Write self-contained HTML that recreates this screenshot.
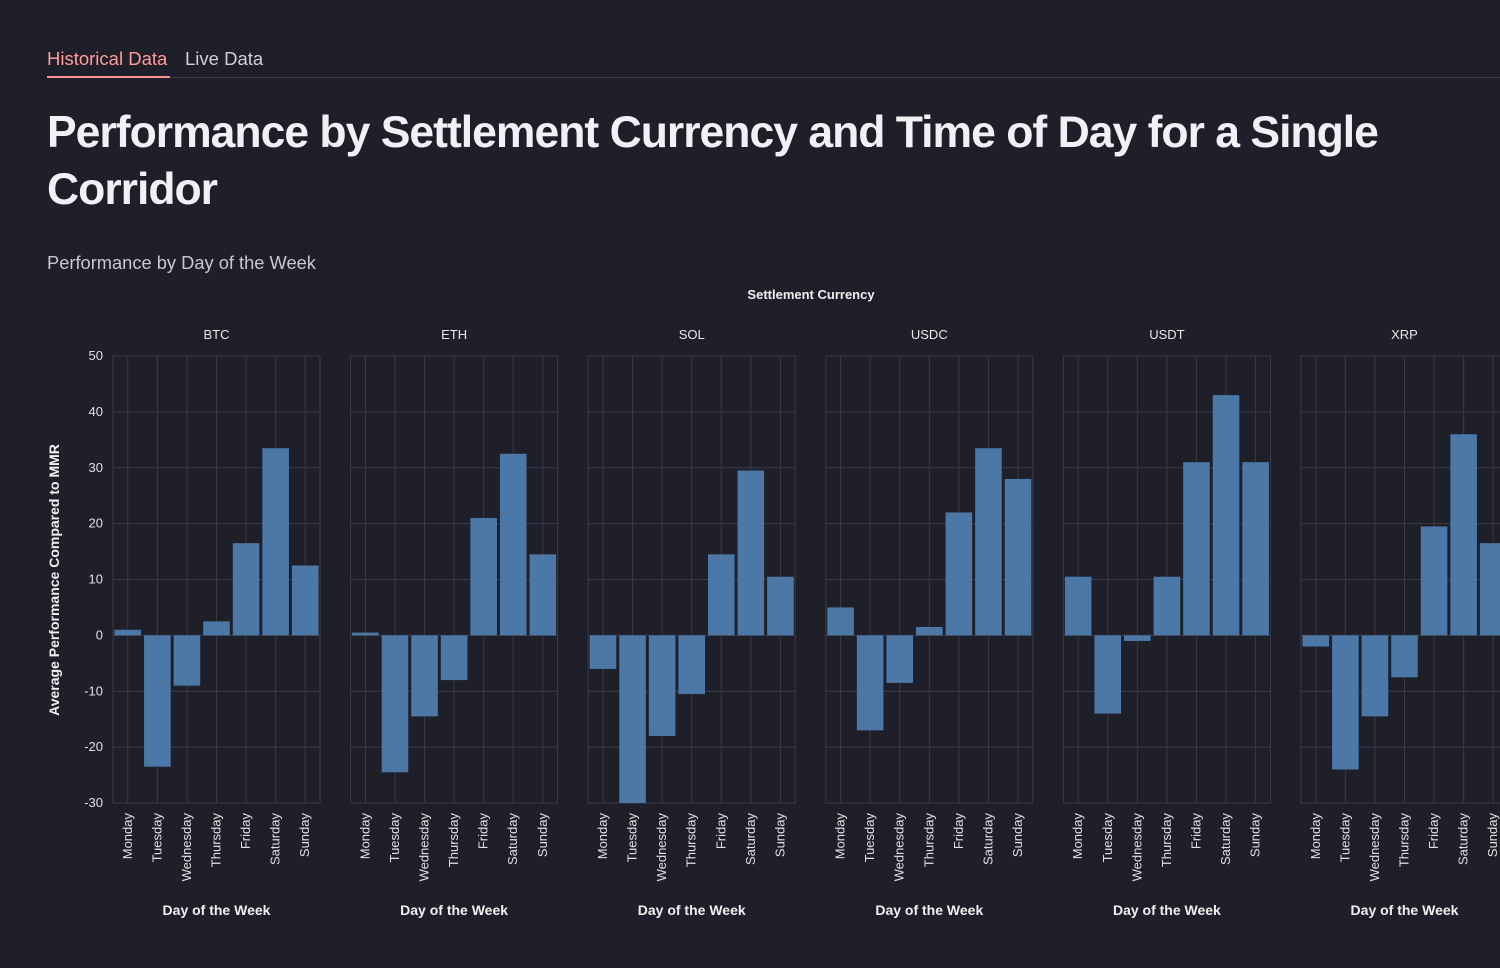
<!DOCTYPE html>
<html><head><meta charset="utf-8"><style>
body{margin:0;background:#1f1f29;width:1500px;height:968px;overflow:hidden;font-family:"Liberation Sans",sans-serif;color:#fafafa}
.tabs{position:absolute;left:47px;top:48px;font-size:18.5px}
.tab{position:absolute;white-space:nowrap}
h1{position:absolute;left:47px;top:104px;margin:0;font-size:44.5px;font-weight:bold;line-height:57px;width:1420px;letter-spacing:-1px;color:#f0f0f5}
.sub{position:absolute;left:47px;top:252px;font-size:18.3px;color:#c8c8d0}
</style></head><body>
<div class="tabs">
<span class="tab" style="left:0;top:0;color:#ff9b9b">Historical Data</span>
<span class="tab" style="left:138px;top:0;color:#d0d0d8">Live Data</span>
</div>
<div style="position:absolute;left:47px;top:77px;width:1453px;height:1px;background:#3a3b46"></div>
<div style="position:absolute;left:47px;top:76px;width:123px;height:2px;background:#ff8f8f"></div>
<h1>Performance by Settlement Currency and Time of Day for a Single Corridor</h1>
<div class="sub">Performance by Day of the Week</div>
<svg id="chart" width="1500" height="968" style="position:absolute;left:0;top:0"></svg>
<script>
const currencies=["BTC","ETH","SOL","USDC","USDT","XRP"];
const days=["Monday","Tuesday","Wednesday","Thursday","Friday","Saturday","Sunday"];
const btcValues=[1,-23.5,-9,2.5,16.5,33.5,12.5];
const ethValues=[0.5,-24.5,-14.5,-8,21,32.5,14.5];
const solValues=[-6,-30,-18,-10.5,14.5,29.5,10.5];
const usdcValues=[5,-17,-8.5,1.5,22,33.5,28];
const usdtValues=[10.5,-14,-1,10.5,31,43,31];
const xrpValues=[-2,-24,-14.5,-7.5,19.5,36,16.5];
const yTicks=[50,40,30,20,10,0,-10,-20,-30];
const series=[btcValues,ethValues,solValues,usdcValues,usdtValues,xrpValues];
const NS="http://www.w3.org/2000/svg";
const svg=document.getElementById("chart");
const top0=356,bot=803,yMax=50,yMin=-30,pw=207,step=237.6,left0=113;
const y=v=>top0+(yMax-v)/(yMax-yMin)*(bot-top0);
function mk(t,a,txt){const e=document.createElementNS(NS,t);for(const k in a)e.setAttribute(k,a[k]);if(txt!==undefined)e.textContent=txt;svg.appendChild(e);return e;}
let e=mk("text",{x:811,y:299,"text-anchor":"middle","font-size":13,"font-weight":"bold",fill:"#f0f0f0","font-family":"Liberation Sans"},"Settlement Currency");


e=mk("text",{x:59,y:580,"text-anchor":"middle","font-size":14,"font-weight":"bold",fill:"#f0f0f0",transform:"rotate(-90 59 580)","font-family":"Liberation Sans"},"Average Performance Compared to MMR");


yTicks.forEach(t=>{
  e=mk("text",{x:103,y:y(t)+4,"text-anchor":"end","font-size":13,fill:"#e0e0e0","font-family":"Liberation Sans"},t);
  
  
});
currencies.forEach((c,ci)=>{
  const x0=left0+ci*step, bw=pw/days.length;
  const g=mk("g",{});
  
  
  yTicks.forEach(t=>{mk("line",{x1:x0,x2:x0+pw,y1:y(t),y2:y(t),stroke:"#3a3b48","stroke-width":1});});
  days.forEach((d,di)=>{const cx=x0+bw*(di+0.5);mk("line",{x1:cx,x2:cx,y1:top0,y2:bot,stroke:"#3a3b48","stroke-width":1});});
  mk("rect",{x:x0,y:top0,width:pw,height:bot-top0,fill:"none",stroke:"#3a3b48"});
  e=mk("text",{x:x0+pw/2,y:339,"text-anchor":"middle","font-size":13,fill:"#e8e8e8","font-family":"Liberation Sans"},c);
  
  
  series[ci].forEach((v,di)=>{
    const bx=x0+bw*di+1.5;
    const r=mk("rect",{x:bx,y:Math.min(y(v),y(0)),width:bw-3,height:Math.abs(y(v)-y(0)),fill:"#4c78a8"});
    
    
    const lx=x0+bw*(di+0.5)+4;
    const t=mk("text",{x:lx,y:813,"text-anchor":"end","font-size":13,fill:"#e0e0e0",transform:`rotate(-90 ${lx} 813)`,"font-family":"Liberation Sans"},days[di]);
    
    
  });
  e=mk("text",{x:x0+pw/2,y:915,"text-anchor":"middle","font-size":14,"font-weight":"bold",fill:"#f0f0f0","font-family":"Liberation Sans"},"Day of the Week");
  
  
});
</script>
</body></html>
